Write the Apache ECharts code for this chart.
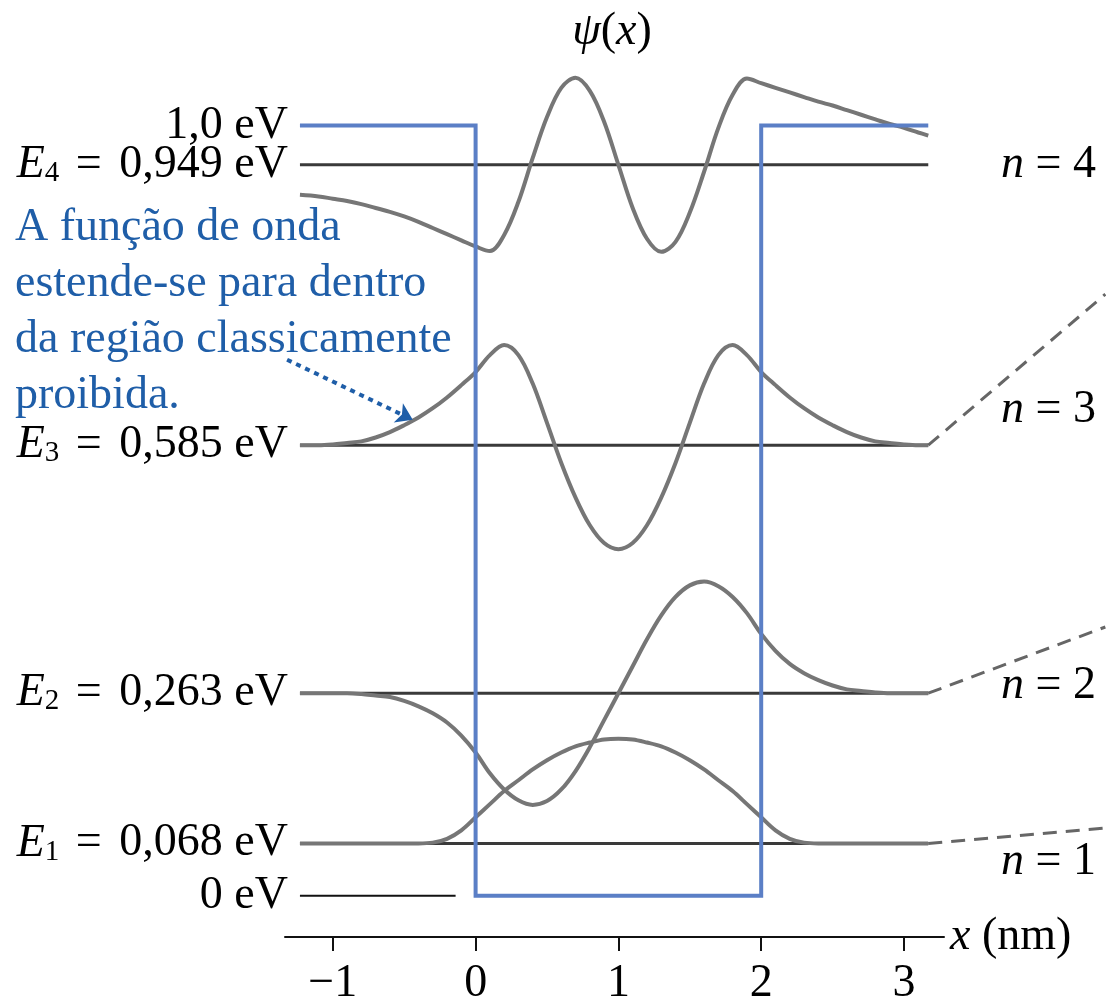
<!DOCTYPE html>
<html>
<head>
<meta charset="utf-8">
<title>ψ(x)</title>
<script src="https://cdn.jsdelivr.net/npm/echarts@6/dist/echarts.min.js"></script>
<style>
html, body { margin: 0; background: #fff; }
#chart { width: 1106px; height: 1007px; }
</style>
</head>
<body>
<div id="chart"></div>
<script>
const FONT = '"Liberation Serif", "Times New Roman", serif'

const xs = [-1.23, -1.1, -1.0, -0.9, -0.8, -0.7, -0.6, -0.5, -0.4, -0.3, -0.2, -0.1,
  0, 0.1, 0.2, 0.3, 0.4, 0.5, 0.6, 0.7, 0.8, 0.9, 1.0,
  1.1, 1.2, 1.3, 1.4, 1.5, 1.6, 1.7, 1.8, 1.9, 2.0,
  2.1, 2.2, 2.3, 2.4, 2.5, 2.6, 2.7, 2.8, 2.9, 3.0, 3.1, 3.17]

// energy levels (eV)
const levels = [0.068, 0.263, 0.585, 0.949]

// psi drawn around each level (offset, in eV units of the picture)
const psi1 = [0, 0, 0, 0, 0, 0, 0, 0, 0, 0.001, 0.006, 0.017,
  0.034, 0.051, 0.068, 0.082, 0.096, 0.108, 0.118, 0.126, 0.131, 0.135, 0.136,
  0.135, 0.131, 0.126, 0.118, 0.108, 0.096, 0.082, 0.068, 0.051, 0.034,
  0.017, 0.006, 0.001, 0, 0, 0, 0, 0, 0, 0, 0, 0]
const psi2 = [0, 0, 0, 0, -0.001, -0.003, -0.005, -0.010, -0.017, -0.026, -0.038, -0.055,
  -0.077, -0.104, -0.125, -0.139, -0.145, -0.140, -0.125, -0.101, -0.070, -0.035, 0,
  0.035, 0.070, 0.101, 0.125, 0.140, 0.145, 0.139, 0.125, 0.104, 0.077,
  0.055, 0.038, 0.026, 0.017, 0.010, 0.005, 0.003, 0.001, 0, 0, 0, 0]
const psi3 = [0, 0, 0.001, 0.003, 0.005, 0.010, 0.017, 0.026, 0.036, 0.048, 0.062, 0.078,
  0.095, 0.117, 0.130, 0.117, 0.080, 0.029, -0.023, -0.068, -0.104, -0.127, -0.135,
  -0.127, -0.104, -0.068, -0.023, 0.029, 0.080, 0.117, 0.130, 0.117, 0.095,
  0.078, 0.062, 0.048, 0.036, 0.026, 0.017, 0.010, 0.005, 0.003, 0.001, 0, 0]
const psi4 = [-0.039, -0.041, -0.044, -0.047, -0.051, -0.056, -0.061, -0.067, -0.074, -0.082, -0.090, -0.098,
  -0.106, -0.112, -0.091, -0.048, 0.009, 0.062, 0.100, 0.113, 0.096, 0.056, 0,
  -0.056, -0.096, -0.113, -0.100, -0.062, -0.009, 0.048, 0.091, 0.112, 0.106,
  0.100, 0.094, 0.088, 0.082, 0.077, 0.071, 0.065, 0.059, 0.053, 0.048, 0.042, 0.038]
const psis = [psi1, psi2, psi3, psi4]

// potential well U(x)
const wellX = [-1.23, 0, 0, 2, 2, 3.17]
const wellU = [1.0, 1.0, 0, 0, 1.0, 1.0]

// 0 eV reference stub
const zeroX = [-1.23, -0.14]

// dashed connectors to the (cut off) level diagram at the right
const dashEndX = 4.41
const dashEndE = [0.088, 0.349, 0.781]

const tickValues = [-1, 0, 1, 2, 3]
const nLabels = ['1', '2', '3', '4']
const noteLines = ['A função de onda', 'estende-se para dentro', 'da região classicamente', 'proibida.']

const fmt = v => v.toFixed(3).replace('.', ',')

const richLabel = {
  e: { fontStyle: 'italic', fontSize: 46, fontFamily: FONT, color: '#000', lineHeight: 46 },
  s: { fontSize: 29, fontFamily: FONT, color: '#000', verticalAlign: 'bottom', lineHeight: 18, padding: [0, 5, 0, 0] },
  t: { fontSize: 46, fontFamily: FONT, color: '#000', lineHeight: 46 },
  v: { fontSize: 46, fontFamily: FONT, color: '#000', lineHeight: 46, padding: [0, 0, 0, 6] }
}

var labelData = [
  { value: [-1.23, 1.0], label: { formatter: '{t|1,0 eV}' } },
  { value: [-1.23, 0], label: { formatter: '{t|0 eV}' } }
]
levels.forEach((e, i) => {
  labelData.push({ value: [-1.23, e], label: { formatter: '{e|E}{s|' + (i + 1) + '}{t| = }{v|' + fmt(e) + ' eV}' } })
})

var series = []
levels.forEach(e => {
  series.push({
    type: 'line', symbol: 'none', silent: true, z: 1,
    data: [[-1.23, e], [3.17, e]],
    lineStyle: { color: '#3a3a3a', width: 3 }
  })
})
psis.forEach((p, k) => {
  series.push({
    type: 'line', symbol: 'none', smooth: 0.35, z: 2,
    data: xs.map((x, i) => [x, +(levels[k] + p[i]).toFixed(4)]),
    lineStyle: { color: '#767676', width: 4 }
  })
})
dashEndE.forEach((e, k) => {
  series.push({
    type: 'line', symbol: 'none', z: 2,
    data: [[3.17, levels[k]], [dashEndX, e]],
    lineStyle: { color: '#666', width: 3, type: [14, 9] }
  })
})
series.push({
  type: 'line', symbol: 'none', z: 1,
  data: zeroX.map(x => [x, 0]),
  lineStyle: { color: '#111', width: 2 }
})
series.push({
  type: 'line', symbol: 'none', z: 3,
  data: wellX.map((x, i) => [x, wellU[i]]),
  lineStyle: { color: '#5b7fc6', width: 4, join: 'miter' },
  markLine: {
    silent: true,
    symbol: ['none', 'arrow'],
    symbolSize: 16,
    label: { show: false },
    lineStyle: { color: '#1f5ea8', width: 4, type: [5, 5], curveness: -0.1 },
    data: [[{ coord: [-1.32, 0.696] }, { coord: [-0.44, 0.618] }]]
  }
})
series.push({
  type: 'scatter', symbolSize: 0, z: 4,
  itemStyle: { opacity: 1 },
  data: labelData,
  label: { show: true, position: 'left', distance: 12, color: '#000', rich: richLabel }
})

const textStyle = (txt, extra) => Object.assign({
  text: txt, fontSize: 46, fontFamily: FONT, fill: '#000',
  rich: {
    i: { fontStyle: 'italic', fontSize: 46, fontFamily: FONT, color: '#000' },
    t: { fontSize: 46, fontFamily: FONT, color: '#000' }
  }
}, extra)

const nY = [862, 686, 410, 165]
var graphics = nLabels.map((n, i) => ({
  type: 'text', x: 1001, y: nY[i],
  style: textStyle('{i|n}{t| = ' + n + '}', { verticalAlign: 'middle' })
}))
graphics.push({
  type: 'text', x: 612, y: 32,
  style: textStyle('{i|ψ}{t|(}{i|x}{t|)}', { align: 'center', verticalAlign: 'middle' })
})
graphics.push({
  type: 'text', x: 15, y: 200,
  style: {
    text: noteLines.join('\n'), fontSize: 46, fontFamily: FONT, fill: '#1f5ea8',
    lineHeight: 56, verticalAlign: 'top'
  }
})

const yRange = { min: -0.0574, max: 1.163 }

const chart = echarts.init(document.getElementById('chart'))
chart.setOption({
  backgroundColor: '#fff',
  animation: false,
  grid: [
    { left: 0, right: 0, top: 0, bottom: 67 },
    { left: 285, right: 162, top: 0, bottom: 67 }
  ],
  xAxis: [
    { type: 'value', gridIndex: 0, min: -3.3305, max: 4.4146, show: false },
    {
      type: 'value', gridIndex: 1, min: -1.335, max: 3.28,
      name: '{i|x}{t| (nm)}', nameLocation: 'end', nameGap: 6,
      nameTextStyle: {
        rich: {
          i: { fontStyle: 'italic', fontSize: 46, fontFamily: FONT, color: '#000' },
          t: { fontSize: 46, fontFamily: FONT, color: '#000' }
        }
      },
      axisLine: { onZero: false, lineStyle: { color: '#111', width: 2 } },
      axisTick: { customValues: tickValues, length: 14, lineStyle: { color: '#111', width: 2 } },
      axisLabel: {
        customValues: tickValues, margin: 24, fontSize: 46, fontFamily: FONT, color: '#000',
        formatter: v => String(v).replace('-', '\u2212')
      },
      splitLine: { show: false }
    }
  ],
  yAxis: [
    Object.assign({ type: 'value', gridIndex: 0, show: false }, yRange),
    Object.assign({ type: 'value', gridIndex: 1, show: false }, yRange)
  ],
  graphic: graphics,
  series: series
})
</script>
</body>
</html>
